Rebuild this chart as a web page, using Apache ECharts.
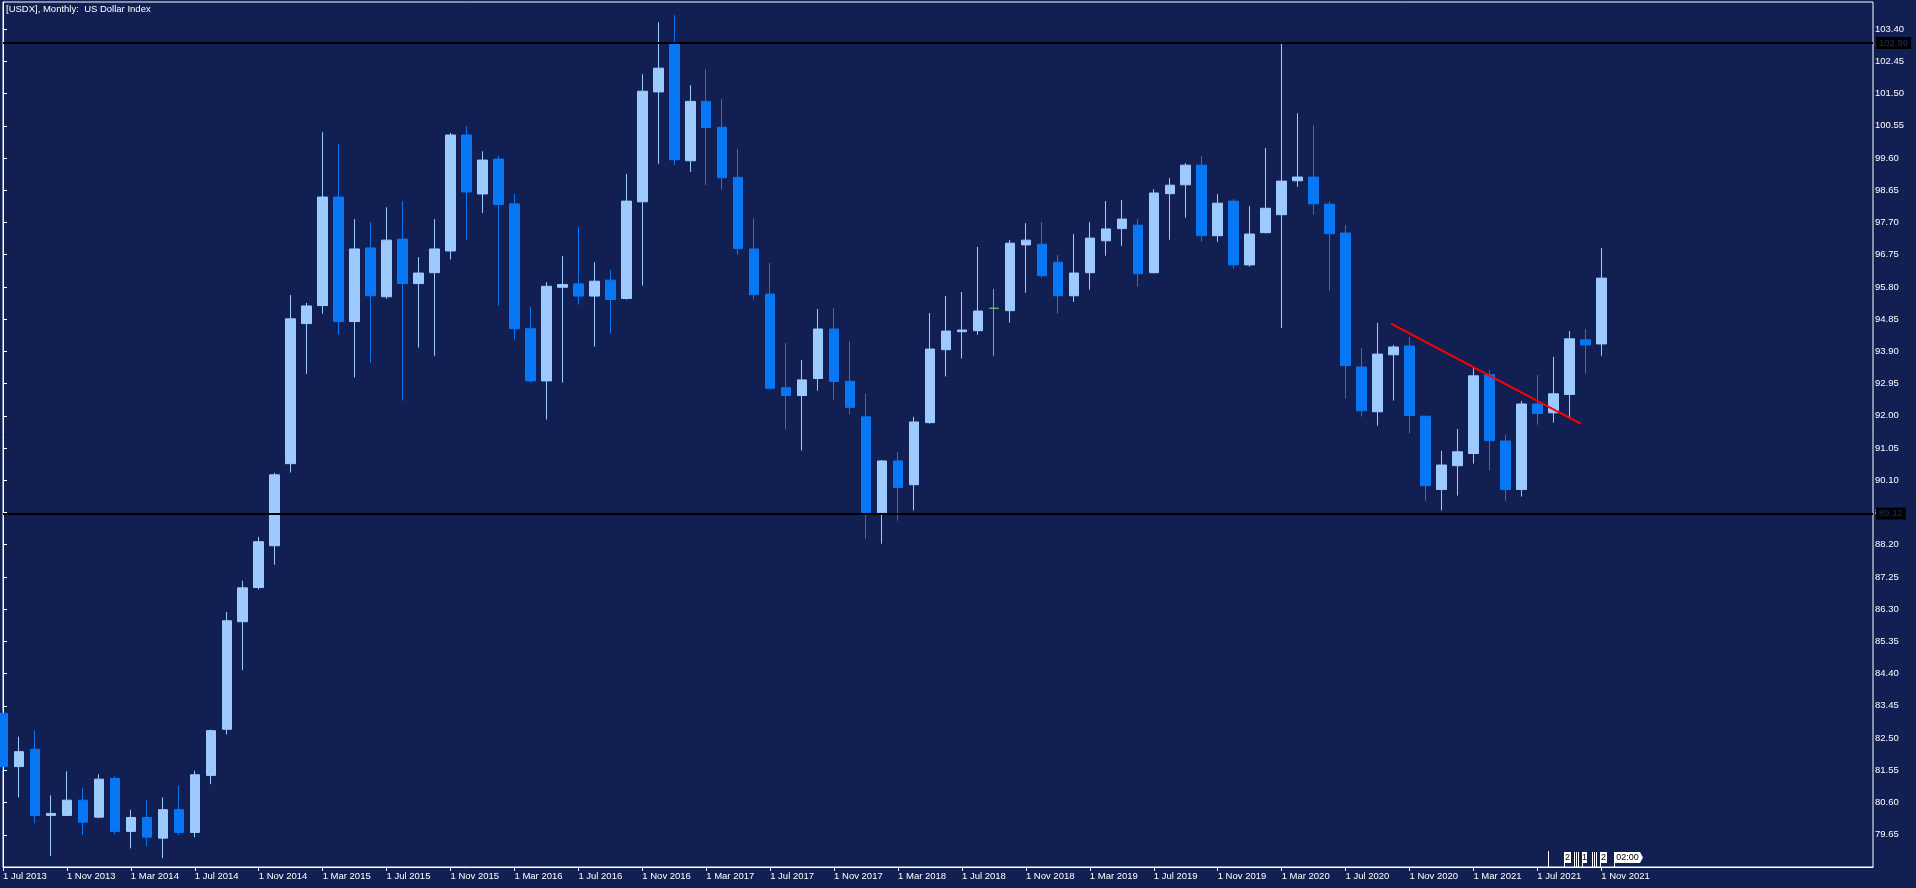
<!DOCTYPE html>
<html>
<head>
<meta charset="utf-8">
<title>[USDX], Monthly: US Dollar Index</title>
<script src="https://cdn.jsdelivr.net/npm/echarts@6/dist/echarts.min.js"></script>
<style>
  html, body { margin: 0; padding: 0; background: #111f52; }
  #chart { width: 1916px; height: 888px; }
</style>
</head>
<body>
<div id="chart"></div>
<script>
// ---------------- DATA ----------------
const chartTitle = '[USDX], Monthly:  US Dollar Index';

const months = [
  '1 Jul 2013','1 Aug 2013','1 Sep 2013','1 Oct 2013','1 Nov 2013','1 Dec 2013',
  '1 Jan 2014','1 Feb 2014','1 Mar 2014','1 Apr 2014','1 May 2014','1 Jun 2014','1 Jul 2014','1 Aug 2014','1 Sep 2014','1 Oct 2014','1 Nov 2014','1 Dec 2014',
  '1 Jan 2015','1 Feb 2015','1 Mar 2015','1 Apr 2015','1 May 2015','1 Jun 2015','1 Jul 2015','1 Aug 2015','1 Sep 2015','1 Oct 2015','1 Nov 2015','1 Dec 2015',
  '1 Jan 2016','1 Feb 2016','1 Mar 2016','1 Apr 2016','1 May 2016','1 Jun 2016','1 Jul 2016','1 Aug 2016','1 Sep 2016','1 Oct 2016','1 Nov 2016','1 Dec 2016',
  '1 Jan 2017','1 Feb 2017','1 Mar 2017','1 Apr 2017','1 May 2017','1 Jun 2017','1 Jul 2017','1 Aug 2017','1 Sep 2017','1 Oct 2017','1 Nov 2017','1 Dec 2017',
  '1 Jan 2018','1 Feb 2018','1 Mar 2018','1 Apr 2018','1 May 2018','1 Jun 2018','1 Jul 2018','1 Aug 2018','1 Sep 2018','1 Oct 2018','1 Nov 2018','1 Dec 2018',
  '1 Jan 2019','1 Feb 2019','1 Mar 2019','1 Apr 2019','1 May 2019','1 Jun 2019','1 Jul 2019','1 Aug 2019','1 Sep 2019','1 Oct 2019','1 Nov 2019','1 Dec 2019',
  '1 Jan 2020','1 Feb 2020','1 Mar 2020','1 Apr 2020','1 May 2020','1 Jun 2020','1 Jul 2020','1 Aug 2020','1 Sep 2020','1 Oct 2020','1 Nov 2020','1 Dec 2020',
  '1 Jan 2021','1 Feb 2021','1 Mar 2021','1 Apr 2021','1 May 2021','1 Jun 2021','1 Jul 2021','1 Aug 2021','1 Sep 2021','1 Oct 2021','1 Nov 2021'
];

const opens = [
  83.23,81.66,82.17,80.22,80.22,80.67,
  80.17,81.31,79.75,80.16,79.55,80.39,79.72,81.40,82.76,85.93,86.94,88.17,
  90.59,94.72,95.25,98.45,94.78,96.95,95.51,97.21,95.90,96.22,96.86,100.28,
  98.54,99.57,98.25,94.57,93.03,95.79,95.89,95.53,96.00,95.46,98.31,101.55,
  102.96,99.52,101.27,100.51,99.03,96.92,95.59,92.83,92.60,93.10,94.56,93.02,
  91.97,89.14,90.67,89.97,91.80,93.95,94.48,94.51,95.17,95.10,97.04,97.06,
  96.53,95.54,96.22,97.16,97.52,97.62,96.22,98.55,98.81,99.39,97.31,98.33,
  96.45,97.40,97.93,98.93,99.04,98.24,97.39,93.44,92.12,93.80,94.06,91.99,
  89.83,90.53,90.89,93.21,91.26,89.83,92.35,92.09,92.63,94.24,94.12
];
const highs = [
  83.30,82.54,82.73,80.81,81.52,81.02,
  81.43,81.37,80.39,80.66,80.75,81.10,81.54,82.75,86.22,87.14,88.43,90.32,
  95.56,95.33,100.36,100.01,97.80,97.71,98.15,98.33,96.68,97.80,100.34,100.54,
  99.80,99.67,98.54,95.21,95.94,96.71,97.56,96.53,96.30,99.13,102.07,103.60,
  103.81,101.75,102.22,101.34,99.87,97.83,96.51,94.15,93.65,95.15,95.18,94.20,
  92.65,90.70,90.94,91.97,95.03,95.53,95.65,96.98,95.74,97.18,97.68,97.71,
  96.74,97.36,97.71,98.33,98.36,97.80,98.68,99.01,99.45,99.66,98.54,98.39,
  98.18,99.89,102.99,100.92,100.57,98.33,97.62,94.00,94.74,94.09,94.33,91.99,
  90.97,91.61,93.44,93.35,91.44,92.44,93.21,93.74,94.50,94.56,96.95
];
const lows = [
  81.55,80.75,79.99,79.02,80.20,79.64,
  80.14,79.66,79.25,79.31,78.96,79.64,79.58,81.14,82.61,84.50,86.88,87.61,
  90.33,93.24,95.01,94.39,93.13,93.57,95.45,92.45,94.01,93.77,96.61,97.19,
  97.98,95.25,94.25,92.98,91.89,92.98,95.28,94.04,94.43,95.43,95.84,99.43,
  99.40,99.19,98.81,98.67,96.75,95.43,92.78,91.60,90.98,92.74,92.48,92.04,
  88.38,88.23,88.91,89.21,91.77,93.16,93.69,94.39,93.77,94.75,95.63,96.07,
  95.01,95.36,95.72,96.72,97.01,95.81,96.20,97.19,97.84,97.13,97.13,96.34,
  96.40,97.38,94.59,98.75,97.93,95.69,92.51,91.98,91.71,92.45,91.48,89.50,
  89.21,89.65,90.59,90.39,89.50,89.62,91.74,91.80,91.92,93.24,93.77
];
const closes = [
  81.66,82.10,80.22,80.28,80.67,80.02,
  81.29,79.75,80.16,79.58,80.39,79.72,81.42,82.72,85.96,86.93,88.29,90.26,
  94.86,95.24,98.45,94.78,96.92,95.54,97.18,95.90,96.21,96.92,100.28,98.60,
  99.54,98.23,94.57,93.03,95.82,95.87,95.53,95.97,95.43,98.33,101.57,102.25,
  99.55,101.27,100.50,99.02,96.93,95.57,92.81,92.60,93.06,94.56,93.01,92.25,
  89.14,90.67,89.89,91.82,93.97,94.50,94.53,95.09,95.17,97.09,97.18,96.13,
  95.54,96.21,97.24,97.51,97.80,96.19,98.57,98.80,99.39,97.31,98.27,96.45,
  97.36,98.12,98.92,99.04,98.25,97.37,93.48,92.15,93.82,94.03,92.01,89.94,
  90.55,90.94,93.18,91.27,89.83,92.35,92.07,92.65,94.27,94.09,96.06
];

// horizontal levels drawn on the chart
const levels = [102.99, 89.12];
// red trend line: [month index, value] at both ends
const trendLine = [[86.84, 94.72], [98.73, 91.76]];
// price-axis tick labels
const yTicks = [79.65,80.60,81.55,82.50,83.45,84.40,85.35,86.30,87.25,88.20,89.15,90.10,91.05,
  92.00,92.95,93.90,94.85,95.80,96.75,97.70,98.65,99.60,100.55,101.50,102.45,103.40];
// price-axis range
const yMin = 78.70, yMax = 104.20;
// empty months to the right of the last bar
const emptyMonthsRight = 17;

// ---------------- BUILD ----------------
const BG = '#111f52';
const UP = '#9ccaff';
const DOWN = '#0877f5';
const DOJI = '#5cc46c';
const FONT = 'Liberation Sans';

const categories = months.concat(new Array(emptyMonthsRight).fill(''));
const candleData = months.map((m, i) => [opens[i], closes[i], lows[i], highs[i]]);
const lastIdx = months.length - 1;
const showTick = (idx) => idx % 4 === 0 && idx <= lastIdx;

const chart = echarts.init(document.getElementById('chart'), null, { renderer: 'canvas' });

const bottomTags = [];
function vline(x, y1, y2) {
  bottomTags.push({ type: 'line', silent: true, z: 100,
    shape: { x1: x, y1: y1, x2: x, y2: y2 }, style: { stroke: '#ffffff', lineWidth: 1 } });
}
function tag(x, w, txt) {
  vline(x + 0.5, 852, 867);
  bottomTags.push({ type: 'rect', silent: true, z: 100,
    shape: { x: x, y: 852, width: w, height: 11 }, style: { fill: '#ffffff' } });
  bottomTags.push({ type: 'text', silent: true, z: 101, x: x + w / 2, y: 857.5,
    style: { text: txt, fill: '#000000', font: '9px ' + FONT, align: 'center', verticalAlign: 'middle' } });
}
vline(1548.5, 851, 867);
tag(1564, 7, '2');
vline(1574.5, 852, 867); vline(1576.5, 852, 867); vline(1578.5, 852, 867);
tag(1582, 5, '1');
vline(1592.5, 852, 867); vline(1594.5, 852, 867); vline(1596.5, 852, 867);
tag(1600, 7, '2');
vline(1614.5, 852, 867);
bottomTags.push({ type: 'polygon', silent: true, z: 100,
  shape: { points: [[1614, 852], [1640, 852], [1643, 857.5], [1640, 863], [1614, 863]] },
  style: { fill: '#ffffff' } });
bottomTags.push({ type: 'text', silent: true, z: 101, x: 1627.5, y: 857.5,
  style: { text: '02:00', fill: '#000000', font: '9px ' + FONT, align: 'center', verticalAlign: 'middle' } });

const option = {
  backgroundColor: BG,
  animation: false,
  title: {
    text: chartTitle,
    left: 6, top: 4, padding: 0,
    textStyle: { color: '#ffffff', fontSize: 9.5, fontWeight: 'normal', fontFamily: FONT }
  },
  grid: {
    left: 2, top: 2, right: 43, bottom: 21,
    show: true, backgroundColor: BG, borderColor: '#ffffff', borderWidth: 1
  },
  xAxis: [
    {
      type: 'category',
      data: categories,
      boundaryGap: false,
      axisLine: { show: true, lineStyle: { color: '#ffffff', width: 1 } },
      axisTick: { show: true, interval: (idx) => showTick(idx), length: 4, lineStyle: { color: '#ffffff' } },
      axisLabel: {
        interval: (idx) => showTick(idx),
        align: 'left', color: '#ffffff', fontSize: 9.5, fontFamily: FONT, margin: 4
      },
      splitLine: { show: false }
    },
    { type: 'value', min: 0, max: categories.length - 1, show: false }
  ],
  yAxis: {
    type: 'value',
    position: 'right',
    min: yMin, max: yMax,
    scale: true,
    axisLine: { show: true, lineStyle: { color: '#ffffff' } },
    axisTick: { show: true, length: 4, customValues: yTicks, lineStyle: { color: '#ffffff' } },
    axisLabel: {
      customValues: yTicks,
      formatter: (v) => Number(v).toFixed(2),
      color: '#ffffff', fontSize: 9.5, fontFamily: FONT, margin: 2
    },
    splitLine: { show: false }
  },
  graphic: bottomTags,
  series: [
    {
      type: 'candlestick',
      data: candleData,
      barWidth: 10,
      clip: true,
      itemStyle: {
        color: UP, color0: DOWN,
        borderColor: UP, borderColor0: DOWN,
        borderColorDoji: DOJI,
        borderWidth: 1
      },
      markLine: {
        silent: true,
        symbol: ['none', 'none'],
        lineStyle: { color: '#000000', width: 2, type: 'solid' },
        label: {
          position: 'end', distance: 3,
          formatter: (p) => Number(p.value).toFixed(2),
          backgroundColor: '#000000', color: '#1c2b6a',
          fontSize: 9.5, fontFamily: FONT, padding: [1, 3, 1, 3]
        },
        emphasis: { disabled: true },
        data: levels.map(v => ({ yAxis: v }))
      }
    },
    {
      type: 'line',
      xAxisIndex: 1,
      yAxisIndex: 0,
      data: trendLine,
      symbol: 'none',
      silent: true,
      z: 5,
      lineStyle: { color: '#ff0000', width: 2 }
    }
  ]
};

chart.setOption(option);
</script>
</body>
</html>
